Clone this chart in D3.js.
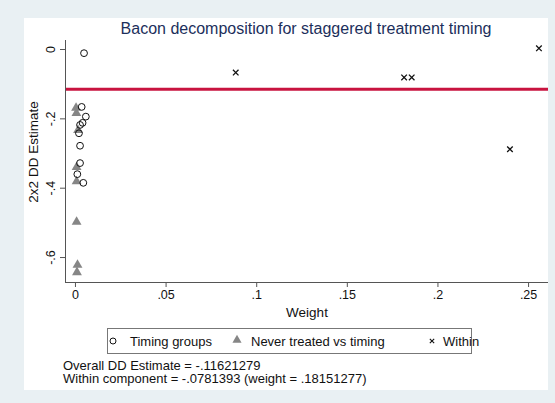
<!DOCTYPE html>
<html>
<head>
<meta charset="utf-8">
<script src="https://cdn.jsdelivr.net/npm/d3@7"></script>
<style>
  html, body { margin: 0; padding: 0; background: #e9f0f3; }
  svg { display: block; font-family: "Liberation Sans", Arial, Helvetica, sans-serif; }
  .axis path, .axis line { stroke: #555; }
  .axis text { fill: #111; font-size: 12.5px; }
</style>
</head>
<body>
<div id="chart"></div>
<script>
// Bacon decomposition — scatter of 2x2 DD estimates against their weight

const timingWeight   = [0.0050, 0.0037, 0.0060, 0.0042, 0.0028, 0.0022, 0.0028, 0.0028, 0.0013, 0.0046];
const timingEstimate = [-0.012, -0.167, -0.195, -0.213, -0.219, -0.243, -0.279, -0.329, -0.361, -0.386];

const neverWeight    = [0.0006, 0.0008, 0.0017, 0.0009, 0.0009, 0.0009, 0.0014, 0.0011];
const neverEstimate  = [-0.170, -0.185, -0.234, -0.341, -0.382, -0.499, -0.623, -0.644];

const withinWeight   = [0.0887, 0.1816, 0.1858, 0.2400, 0.2560];
const withinEstimate = [-0.068, -0.082, -0.082, -0.289, 0.002];

const overallEstimate = -0.11621279;

const xTicks = [0, 0.05, 0.1, 0.15, 0.2, 0.25];
const yTicks = [0, -0.2, -0.4, -0.6];

const legendLabels = ["Timing groups", "Never treated vs timing", "Within"];
const noteLines = [
  "Overall DD Estimate = -.11621279",
  "Within component = -.0781393 (weight = .18151277)"
];

const W = 555, H = 403;
const stataNum = v => v === 0 ? "0" : String(+v.toFixed(3)).replace(/^(-?)0\./, "$1.");

const svg = d3.select("#chart").append("svg")
  .attr("width", W).attr("height", H);

svg.append("rect").attr("width", W).attr("height", H).attr("fill", "#e9f0f3");
// graph region
svg.append("rect")
  .attr("x", 24).attr("y", 18).attr("width", 524).attr("height", 372)
  .attr("fill", "#ffffff");

const xScale = d3.scaleLinear().domain([-0.0055, 0.261]).range([65, 548]);
const yScale = d3.scaleLinear().domain([0.026, -0.672]).range([40, 282]);

// title
svg.append("text")
  .attr("x", 306).attr("y", 34)
  .attr("text-anchor", "middle")
  .attr("fill", "#1c2f5b")
  .style("font-size", "16px")
  .text("Bacon decomposition for staggered treatment timing");

// axes
svg.append("g")
  .attr("class", "axis")
  .attr("transform", `translate(0,${yScale.range()[1]})`)
  .call(d3.axisBottom(xScale).tickValues(xTicks).tickFormat(stataNum).tickSize(5).tickSizeOuter(0).tickPadding(3))
  .call(g => g.select(".domain").attr("d", `M${xScale.range()[0]},0.5H${xScale.range()[1]}`));

const yAxis = svg.append("g")
  .attr("class", "axis")
  .attr("transform", `translate(${xScale.range()[0]},0)`)
  .call(d3.axisLeft(yScale).tickValues(yTicks).tickFormat(stataNum).tickSize(5).tickSizeOuter(0));
yAxis.select(".domain").attr("d", `M0.5,${yScale.range()[0]}V${yScale.range()[1]}`);
yAxis.selectAll(".tick text")
  .attr("x", null).attr("dy", null)
  .attr("text-anchor", "middle")
  .attr("transform", "translate(-10,0) rotate(-90)")
  .attr("y", 0);

// axis titles
svg.append("text")
  .attr("transform", "translate(38,152) rotate(-90)")
  .attr("text-anchor", "middle")
  .style("font-size", "13.5px")
  .attr("fill", "#111")
  .text("2x2 DD Estimate");

svg.append("text")
  .attr("x", 307).attr("y", 317)
  .attr("text-anchor", "middle")
  .style("font-size", "13.5px")
  .attr("fill", "#111")
  .text("Weight");

// overall estimate line
svg.append("line")
  .attr("x1", xScale.range()[0] + 1).attr("x2", xScale.range()[1])
  .attr("y1", yScale(overallEstimate)).attr("y2", yScale(overallEstimate))
  .attr("stroke", "#c8133f").attr("stroke-width", 3);

const tri = d3.symbol().type(d3.symbolTriangle).size(42);
const cross = d3.symbol().type(d3.symbolTimes).size(22);

// never treated vs timing
svg.append("g").selectAll("path")
  .data(d3.zip(neverWeight, neverEstimate))
  .join("path")
    .attr("transform", d => `translate(${xScale(d[0])},${yScale(d[1])})`)
    .attr("d", tri)
    .attr("fill", "#868686");

// timing groups
svg.append("g").selectAll("circle")
  .data(d3.zip(timingWeight, timingEstimate))
  .join("circle")
    .attr("cx", d => xScale(d[0]))
    .attr("cy", d => yScale(d[1]))
    .attr("r", 3.4)
    .attr("fill", "none")
    .attr("stroke", "#111")
    .attr("stroke-width", 1);

// within
svg.append("g").selectAll("path")
  .data(d3.zip(withinWeight, withinEstimate))
  .join("path")
    .attr("transform", d => `translate(${xScale(d[0])},${yScale(d[1])})`)
    .attr("d", cross)
    .attr("fill", "none")
    .attr("stroke", "#111")
    .attr("stroke-width", 1.3);

// legend
const lg = svg.append("g");
lg.append("rect")
  .attr("x", 107.5).attr("y", 328.5).attr("width", 364).attr("height", 25)
  .attr("fill", "#fff").attr("stroke", "#777");
const legY = 341;
lg.append("circle").attr("cx", 113).attr("cy", legY).attr("r", 3).attr("fill", "none").attr("stroke", "#111");
lg.append("path").attr("transform", `translate(237,${legY - 1})`).attr("d", d3.symbol().type(d3.symbolTriangle).size(36)).attr("fill", "#868686");
lg.append("path").attr("transform", `translate(432,${legY})`).attr("d", d3.symbol().type(d3.symbolTimes).size(14))
  .attr("fill", "none").attr("stroke", "#111").attr("stroke-width", 1.1);
lg.selectAll("text.leg")
  .data(legendLabels)
  .join("text")
    .attr("class", "leg")
    .attr("x", (d, i) => [130, 251, 443][i])
    .attr("y", 346)
    .style("font-size", "13px")
    .attr("fill", "#111")
    .text(d => d);

// notes
svg.selectAll("text.note")
  .data(noteLines)
  .join("text")
    .attr("class", "note")
    .attr("x", 63)
    .attr("y", (d, i) => 370 + i * 12.5)
    .style("font-size", "13px")
    .attr("fill", "#111")
    .text(d => d);
</script>
</body>
</html>
